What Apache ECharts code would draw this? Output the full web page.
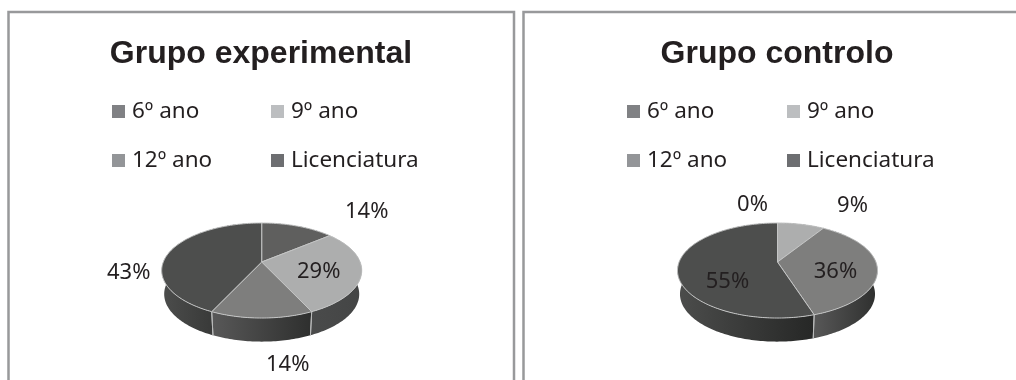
<!DOCTYPE html>
<html><head><meta charset="utf-8">
<style>html,body{margin:0;padding:0;background:#fff}#c{width:1016px;height:380px}</style>
<script src="https://cdn.jsdelivr.net/npm/echarts@6/dist/echarts.min.js"></script>
</head><body><div id="c"></div>
<script>
const categories = ['6º ano', '9º ano', '12º ano', 'Licenciatura'];
const titles = ['Grupo experimental', 'Grupo controlo'];
const experimental = [14, 29, 14, 43];
const controlo = [0, 9, 36, 55];
const legendColors = ['#808184', '#bcbec0', '#939598', '#6d6e71'];
const topColors = ['#5f5f5e', '#adaeae', '#7e7e7d', '#4d4e4d'];
const wallColors = [['#4a4b4a', '#333433'], ['#4a4b4b', '#444545'], ['#585858', '#2e2f2e'], ['#4c4d4c', '#262726']];
const labelOffsets = [
  [[105, -50], [57, 10], [26, 103], [-133, 11]],
  [[-25, -57], [75, -56], [58, 10], [-50, 20]]
];
const centers = [[261.7, 262], [777.5, 262]];
const R = 98.4, H = 46, K = 0.179, DEPTH = 23.6, BOTTOM_X = 0.975;

function project(t, c, down) {
  const sx = Math.sin(t), cy = -Math.cos(t), w = 1 - K * cy;
  const x = R * sx / w, y = H * cy / w;
  return down ? [c[0] + x * BOTTOM_X, c[1] + y + DEPTH] : [c[0] + x, c[1] + y];
}
function arc(a0, a1, c, down) {
  const pts = [], n = Math.max(2, Math.ceil((a1 - a0) / 0.02));
  for (let i = 0; i <= n; i++) pts.push(project(a0 + (a1 - a0) * i / n, c, down));
  return pts;
}
function renderSlice(pieIndex, values, catIndex) {
  return function () {
    const c = centers[pieIndex];
    const total = values.reduce((a, b) => a + b, 0);
    const before = values.slice(0, catIndex).reduce((a, b) => a + b, 0);
    const a0 = before / total * 2 * Math.PI;
    const a1 = (before + values[catIndex]) / total * 2 * Math.PI;
    const children = [];
    if (values[catIndex] > 0) {
      const top = arc(a0, a1, c, false), bot = arc(a0, a1, c, true);
      children.push({
        type: 'polygon', z2: 1, shape: { points: top.concat(bot.slice().reverse()) },
        style: {
          fill: new echarts.graphic.LinearGradient(0, 0, 1, 0, [
            { offset: 0, color: wallColors[catIndex][0] }, { offset: 1, color: wallColors[catIndex][1] }])
        }
      });
      [a0, a1].forEach(a => {
        const p = project(a, c, false), q = project(a, c, true);
        children.push({
          type: 'line', z2: 1.5, shape: { x1: p[0], y1: p[1], x2: q[0], y2: q[1] },
          style: { stroke: '#b9baba', lineWidth: 1 }
        });
      });
      children.push({
        type: 'polygon', z2: 2, shape: { points: [c].concat(top) },
        style: { fill: topColors[catIndex], stroke: '#c4c5c5', lineWidth: 1 }
      });
    }
    const off = labelOffsets[pieIndex][catIndex];
    children.push({
      type: 'text', z2: 5, x: c[0] + off[0], y: c[1] + off[1],
      style: {
        text: values[catIndex] + '%', fill: '#231f20', font: '22px "Noto Sans"',
        textAlign: 'center', textVerticalAlign: 'middle'
      }
    });
    return { type: 'group', children };
  };
}
const series = [];
[experimental, controlo].forEach((vals, p) => {
  vals.forEach((v, i) => series.push({
    type: 'custom', name: categories[i], coordinateSystem: 'none',
    color: legendColors[i], itemStyle: { color: legendColors[i] },
    data: [[v]], silent: true, renderItem: renderSlice(p, vals, i), animation: false
  }));
});
const legendBase = {
  icon: 'rect', itemWidth: 13, itemHeight: 13, itemGap: 26, orient: 'vertical',
  padding: 0, selectedMode: false,
  textStyle: { fontFamily: 'Noto Sans', fontSize: 22.5, color: '#231f20', padding: [0, 0, 0, 2] }
};
const col1 = [categories[0], categories[2]], col2 = [categories[1], categories[3]];
const frameStyle = { stroke: '#98999b', lineWidth: 2.5, fill: 'none' };
const titleStyle = { fontFamily: 'Liberation Sans', fontSize: 32, fontWeight: 'bold', color: '#231f20' };
const option = {
  animation: false, backgroundColor: '#fff',
  title: [
    { text: titles[0], left: 256, top: 33, textAlign: 'center', textStyle: titleStyle },
    { text: titles[1], left: 772, top: 33, textAlign: 'center', textStyle: titleStyle }
  ],
  legend: [
    Object.assign({}, legendBase, { left: 112, top: 100, data: col1 }),
    Object.assign({}, legendBase, { left: 271, top: 100, data: col2 }),
    Object.assign({}, legendBase, { left: 627, top: 100, data: col1 }),
    Object.assign({}, legendBase, { left: 787, top: 100, data: col2 })
  ],
  graphic: [
    { type: 'polyline', silent: true, shape: { points: [[8.5, 380], [8.5, 12], [514, 12], [514, 380]] }, style: frameStyle },
    { type: 'polyline', silent: true, shape: { points: [[523.5, 380], [523.5, 12], [1016, 12]] }, style: frameStyle }
  ],
  series
};
const chart = echarts.init(document.getElementById('c'), null, { renderer: 'canvas' });
chart.setOption(option);
</script></body></html>
